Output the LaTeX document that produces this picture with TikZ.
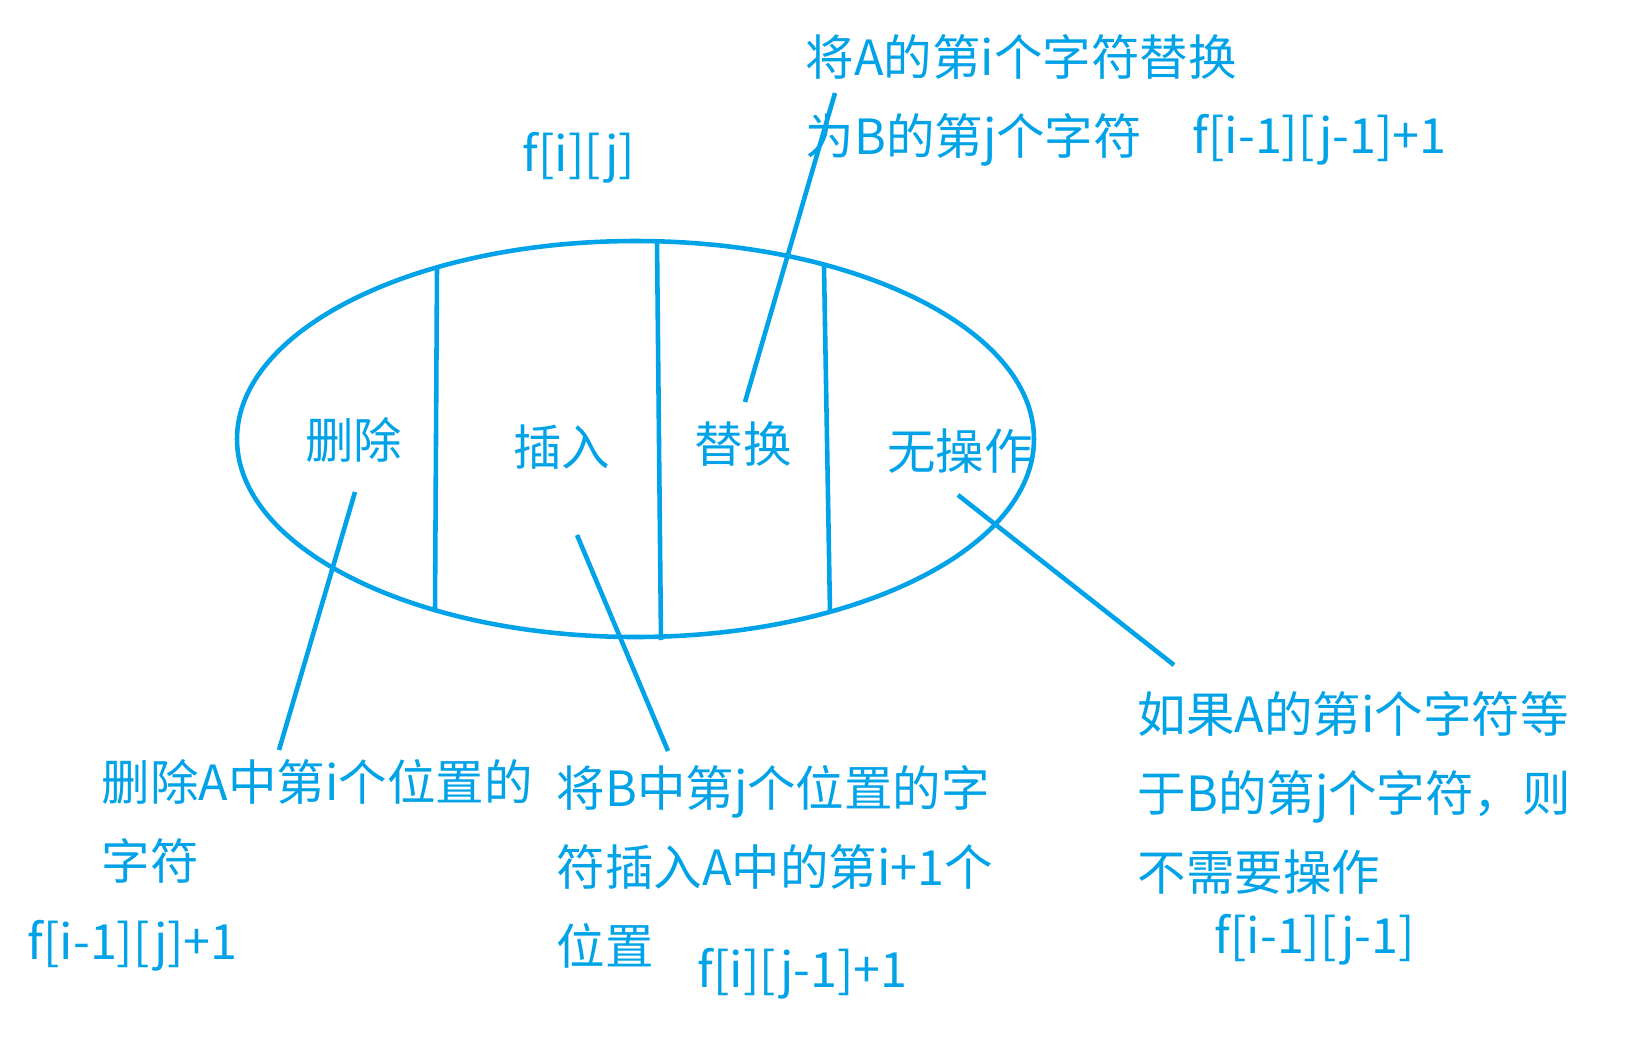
\documentclass[tikz,border=0pt]{standalone}
\usepackage{fontspec}
\newfontfamily\cjk{Noto Sans CJK SC}
\usetikzlibrary{positioning,shapes.geometric}
\definecolor{paintblue}{HTML}{00A2E8}
\tikzset{
  every node/.style={text=paintblue},
  pen/.style={draw=paintblue, line width=1.3pt},
  txt/.style={font=\cjk\fontsize{13.8}{22.5}\selectfont, inner sep=0pt,
              align=left, anchor=west},
  op/.style={font=\cjk\fontsize{13.8}{16}\selectfont, inner sep=0pt},
}

\begin{document}
\begin{tikzpicture}[x=0.1mm,y=-0.1mm]
\useasboundingbox (0,0) rectangle (1651,1060);

% ---------------- the oval and its four parts ----------------
\node[ellipse, pen, minimum width=79.7mm, minimum height=39.6mm, inner sep=0pt]
  (oval) at (635.5,439) {};
\draw[pen] (437,268) -- (435,611);
\draw[pen] (657,241) -- (661,640);
\draw[pen] (824,266) -- (830,612);

\node[op] (del) at (354,440) {删除};
\node[op] (ins) at (562,447) {插入};
\node[op] (rep) at (743,444) {替换};
\node[op] (nop) at (960,451) {无操作};

% ---------------- notes ----------------
\node[txt] (fij) at (522,158) {f[i][j]};
\node[txt] (repnote) at (805,100)
  {将A的第i个字符替换\\为B的第j个字符};
\node[txt] (repf) at (1192,140) {f[i-1][j-1]+1};

\node[txt] (delnote) at (101,821)
  {删除A中第i个位置的\\字符};
\node[txt] (delf) at (27,946) {f[i-1][j]+1};

\node[txt] (insnote) at (556,867)
  {将B中第j个位置的字\\符插入A中的第i+1个\\位置};
\node[txt] (insf) at (697,974) {f[i][j-1]+1};

\node[txt] (nopnote) at (1137,793)
  {如果A的第i个字符等\\于B的第j个字符，则\\不需要操作};
\node[txt] (nopf) at (1214,940) {f[i-1][j-1]};

% ---------------- leaders ----------------
\coordinate (delA) at (355,492);  \coordinate (delB) at (279,750);
\coordinate (insA) at (577,535);  \coordinate (insB) at (668,751);
\coordinate (repA) at (745,402);  \coordinate (repB) at (835,93);
\coordinate (nopA) at (958,495);  \coordinate (nopB) at (1174,665);
\draw[pen] (delA) -- (delB);
\draw[pen] (insA) -- (insB);
\draw[pen] (repA) -- (repB);
\draw[pen] (nopA) -- (nopB);

\end{tikzpicture}
\end{document}
